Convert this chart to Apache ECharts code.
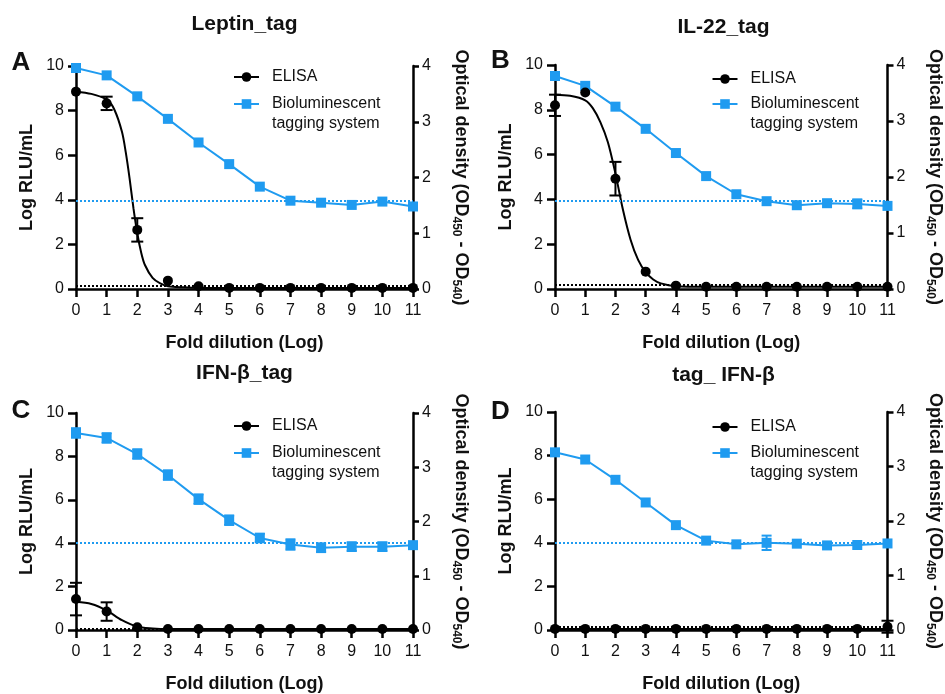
<!DOCTYPE html>
<html>
<head>
<meta charset="utf-8">
<script src="https://cdn.jsdelivr.net/npm/echarts@6/dist/echarts.min.js"></script>
<style>html,body{margin:0;padding:0;background:#fff}#c{width:945px;height:694px}</style>
</head>
<body>
<div id="c"></div>
<script>
// ---------------- data ----------------
const dilution = [0, 1, 2, 3, 4, 5, 6, 7, 8, 9, 10, 11];
const titles = ['Leptin_tag', 'IL-22_tag', 'IFN-β_tag', 'tag_ IFN-β'];
const letters = ['A', 'B', 'C', 'D'];
const xAxisName = 'Fold dilution (Log)';
const leftAxisName = 'Log RLU/mL';
const rightAxisName = 'Optical density (OD{s|450} - OD{s|540})';
const legendNames = ['ELISA', 'Bioluminescent tagging system'];

// Bioluminescent tagging system (Log RLU/mL)
const bioA = [9.91, 9.58, 8.64, 7.63, 6.57, 5.60, 4.59, 3.96, 3.87, 3.77, 3.92, 3.70];
const bioAErr = [0, 0, 0, 0, 0, 0, 0, 0, 0, 0, 0, 0];
const bioB = [9.51, 9.07, 8.14, 7.15, 6.07, 5.04, 4.23, 3.92, 3.74, 3.83, 3.80, 3.71];
const bioBErr = [0, 0, 0, 0, 0, 0, 0, 0, 0, 0, 0.2, 0];
const bioC = [9.08, 8.85, 8.11, 7.14, 6.03, 5.06, 4.24, 3.94, 3.79, 3.84, 3.84, 3.91];
const bioCErr = [0.22, 0.22, 0.22, 0.22, 0.22, 0.22, 0.2, 0.24, 0.2, 0.2, 0.2, 0.1];
const bioD = [8.15, 7.82, 6.89, 5.85, 4.81, 4.10, 3.93, 4.00, 3.96, 3.88, 3.90, 3.97];
const bioDErr = [0, 0, 0, 0, 0, 0, 0, 0.33, 0, 0, 0, 0];

// ELISA (optical density)
const elisaA = [3.54, 3.33, 1.06, 0.15, 0.05, 0.02, 0.02, 0.02, 0.02, 0.02, 0.02, 0.02];
const elisaAErr = [0, 0.12, 0.21, 0, 0, 0, 0, 0, 0, 0, 0, 0];
const elisaB = [3.28, 3.51, 1.97, 0.31, 0.06, 0.04, 0.04, 0.04, 0.04, 0.04, 0.04, 0.04];
const elisaBErr = [0.19, 0, 0.30, 0, 0, 0, 0, 0, 0, 0, 0, 0];
const elisaC = [0.57, 0.34, 0.05, 0.02, 0.02, 0.02, 0.02, 0.02, 0.02, 0.02, 0.02, 0.02];
const elisaCErr = [0.30, 0.17, 0, 0, 0, 0, 0, 0, 0, 0, 0, 0];
const elisaD = [0.02, 0.02, 0.02, 0.02, 0.02, 0.02, 0.02, 0.02, 0.02, 0.02, 0.02, 0.06];
const elisaDErr = [0, 0, 0, 0, 0, 0, 0, 0, 0, 0, 0, 0.11];

// ELISA fitted curves (x = fold dilution, y = OD)
const fitAx = [0, 0.5, 1, 1.25, 1.5, 1.625, 1.75, 1.875, 2, 2.125, 2.25, 2.5, 2.75, 3, 3.5, 4, 11];
const fitAy = [3.54, 3.50, 3.40, 3.22, 2.82, 2.45, 1.98, 1.45, 1.00, 0.66, 0.43, 0.20, 0.10, 0.05, 0.03, 0.02, 0.02];
const fitBx = [0, 0.5, 1, 1.25, 1.5, 1.75, 2, 2.25, 2.5, 2.75, 3, 3.25, 3.5, 4, 5, 11];
const fitBy = [3.47, 3.45, 3.37, 3.23, 2.98, 2.62, 2.06, 1.41, 0.88, 0.52, 0.30, 0.17, 0.10, 0.05, 0.04, 0.04];
const fitCx = [0, 0.5, 1, 1.5, 2, 2.5, 3, 4, 11];
const fitCy = [0.52, 0.48, 0.36, 0.18, 0.06, 0.03, 0.02, 0.02, 0.02];
const fitDx = [0, 11];
const fitDy = [0.02, 0.02];

// cut-off lines
const bioCut = [3.96, 3.92, 4.02, 4.00];       // Log RLU/mL
const elisaCut = [0.06, 0.065, 0.03, 0.06];     // OD

// ---------------- layout / style ----------------
const FONT = '"Liberation Sans", Arial, Helvetica, sans-serif';
const BLUE = '#1f9bf0';
const INK = '#111111';
const boxes = [
  {l: 76, t: 66, w: 337, h: 223, tx: 244.5, ty: 24, lx: 21, ly: 63, legX: 233, leg1: 77, leg2: 104},
  {l: 555, t: 65, w: 337, h: 224, tx: 723.5, ty: 27, lx: 500.5, ly: 61, legX: 711.5, leg1: 79, leg2: 104},
  {l: 76, t: 413, w: 337, h: 224, tx: 244.5, ty: 373, lx: 21, ly: 411, legX: 233, leg1: 426, leg2: 453},
  {l: 555, t: 412, w: 337, h: 225, tx: 723.5, ty: 375, lx: 500.5, ly: 412, legX: 711.5, leg1: 427, leg2: 453}
];
const panels = [
  {bio: bioA, bioErr: bioAErr, elisa: elisaA, elisaErr: elisaAErr, fx: fitAx, fy: fitAy},
  {bio: bioB, bioErr: bioBErr, elisa: elisaB, elisaErr: elisaBErr, fx: fitBx, fy: fitBy},
  {bio: bioC, bioErr: bioCErr, elisa: elisaC, elisaErr: elisaCErr, fx: fitCx, fy: fitCy},
  {bio: bioD, bioErr: bioDErr, elisa: elisaD, elisaErr: elisaDErr, fx: fitDx, fy: fitDy}
];

function errSeries(xi, yi, vals, errs, color, halfW) {
  const data = [];
  dilution.forEach((x, k) => { if (errs[k] > 0) data.push([x, vals[k], errs[k]]); });
  return {
    type: 'custom', xAxisIndex: xi, yAxisIndex: yi, silent: true, z: 4, clip: false,
    encode: {x: 0, y: 1},
    renderItem: function (params, api) {
      const x = api.value(0), y = api.value(1), e = api.value(2);
      const top = api.coord([x, y + e]);
      const bot = api.coord([x, y - e]);
      const st = {stroke: color, lineWidth: 2};
      return {type: 'group', children: [
        {type: 'line', shape: {x1: top[0], y1: top[1], x2: bot[0], y2: bot[1]}, style: st},
        {type: 'line', shape: {x1: top[0] - halfW, y1: top[1], x2: top[0] + halfW, y2: top[1]}, style: st},
        {type: 'line', shape: {x1: bot[0] - halfW, y1: bot[1], x2: bot[0] + halfW, y2: bot[1]}, style: st}
      ]};
    },
    data: data
  };
}

const option = {
  animation: false,
  backgroundColor: '#ffffff',
  grid: [], xAxis: [], yAxis: [], series: [], legend: [], graphic: []
};

const axisLineStyle = {color: '#000', width: 2.5};
const tickLabel = {fontFamily: FONT, fontSize: 16, color: INK};
const nameStyle = {fontFamily: FONT, fontSize: 18, fontWeight: 'bold', color: INK};

panels.forEach((p, i) => {
  const b = boxes[i];
  option.grid.push({left: b.l, top: b.t, width: b.w, height: b.h, containLabel: false});
  option.xAxis.push({
    gridIndex: i, type: 'value', min: 0, max: 11, interval: 1,
    name: xAxisName, nameLocation: 'middle', nameGap: 45, nameTextStyle: nameStyle,
    axisLine: {show: true, onZero: false, lineStyle: axisLineStyle},
    axisTick: {show: true, length: 8, lineStyle: {color: '#000', width: 2.5}},
    axisLabel: Object.assign({margin: 14}, tickLabel),
    splitLine: {show: false}
  });
  option.yAxis.push({
    gridIndex: i, type: 'value', position: 'left', min: 0, max: 10, interval: 2,
    name: leftAxisName, nameLocation: 'middle', nameGap: 40, nameRotate: 90, nameTextStyle: nameStyle,
    axisLine: {show: true, onZero: false, lineStyle: axisLineStyle},
    axisTick: {show: true, length: 8, lineStyle: {color: '#000', width: 2.5}},
    axisLabel: Object.assign({margin: 12}, tickLabel),
    splitLine: {show: false}
  });
  option.yAxis.push({
    gridIndex: i, type: 'value', position: 'right', min: 0, max: 4, interval: 1,
    name: rightAxisName, nameLocation: 'middle', nameGap: 37, nameRotate: -90,
    nameTextStyle: Object.assign({}, nameStyle, {rich: {s: {fontFamily: FONT, fontSize: 12, fontWeight: 'bold', color: INK, padding: [9, 0, 0, 0]}}}),
    axisLine: {show: true, onZero: false, lineStyle: axisLineStyle},
    axisTick: {show: true, length: 6, lineStyle: {color: '#000', width: 2.5}},
    axisLabel: Object.assign({margin: 9}, tickLabel),
    splitLine: {show: false}
  });
  const yl = 2 * i, yr = 2 * i + 1;
  // ELISA fitted curve (legend icon source)
  option.series.push({
    name: legendNames[0], type: 'line', xAxisIndex: i, yAxisIndex: yr,
    data: p.fx.map((x, k) => [x, p.fy[k]]),
    symbol: 'none', smooth: 0.3,
    lineStyle: {color: '#000', width: 2}, itemStyle: {color: '#000'}, z: 3
  });
  // ELISA points
  option.series.push({
    name: legendNames[0], type: 'scatter', xAxisIndex: i, yAxisIndex: yr,
    data: dilution.map((x, k) => [x, p.elisa[k]]),
    symbol: 'circle', symbolSize: 10, itemStyle: {color: '#000', opacity: 1}, z: 6,
    markLine: {silent: true, symbol: 'none', label: {show: false},
      lineStyle: {type: 'dotted', color: '#000', width: 2},
      data: [{yAxis: elisaCut[i]}]}
  });
  option.series.push(errSeries(i, yr, p.elisa, p.elisaErr, '#000', 6));
  // Bioluminescent
  option.series.push({
    name: legendNames[1], type: 'line', xAxisIndex: i, yAxisIndex: yl,
    data: dilution.map((x, k) => [x, p.bio[k]]),
    symbol: 'rect', symbolSize: 10, showSymbol: true,
    lineStyle: {color: BLUE, width: 2}, itemStyle: {color: BLUE}, z: 5,
    markLine: {silent: true, symbol: 'none', label: {show: false},
      lineStyle: {type: 'dotted', color: BLUE, width: 2},
      data: [{yAxis: bioCut[i]}]}
  });
  option.series.push(errSeries(i, yl, p.bio, p.bioErr, BLUE, 5));

  option.legend.push({
    left: b.legX, top: b.leg1 - 10, orient: 'vertical', padding: 0,
    itemWidth: 25, itemHeight: 12, selectedMode: false, data: [legendNames[0]],
    textStyle: {fontFamily: FONT, fontSize: 16, color: INK, lineHeight: 20, padding: [0, 0, 0, 8]}
  });
  option.legend.push({
    left: b.legX, top: b.leg2 - 30, orient: 'vertical', padding: 0,
    itemWidth: 25, itemHeight: 12, selectedMode: false, data: [legendNames[1]],
    formatter: function () { return '\nBioluminescent\ntagging system'; },
    textStyle: {fontFamily: FONT, fontSize: 16, color: INK, lineHeight: 20, padding: [0, 0, 0, 8]}
  });

  option.graphic.push({
    type: 'text', x: b.tx, y: b.ty, silent: true,
    style: {text: titles[i], fontFamily: FONT, fontSize: 21, fontWeight: 'bold', fill: INK, align: 'center', verticalAlign: 'middle'}
  });
  option.graphic.push({
    type: 'text', x: b.lx, y: b.ly, silent: true,
    style: {text: letters[i], fontFamily: FONT, fontSize: 26, fontWeight: 'bold', fill: INK, align: 'center', verticalAlign: 'middle'}
  });
});

const chart = echarts.init(document.getElementById('c'));
chart.setOption(option);
</script>
</body>
</html>
